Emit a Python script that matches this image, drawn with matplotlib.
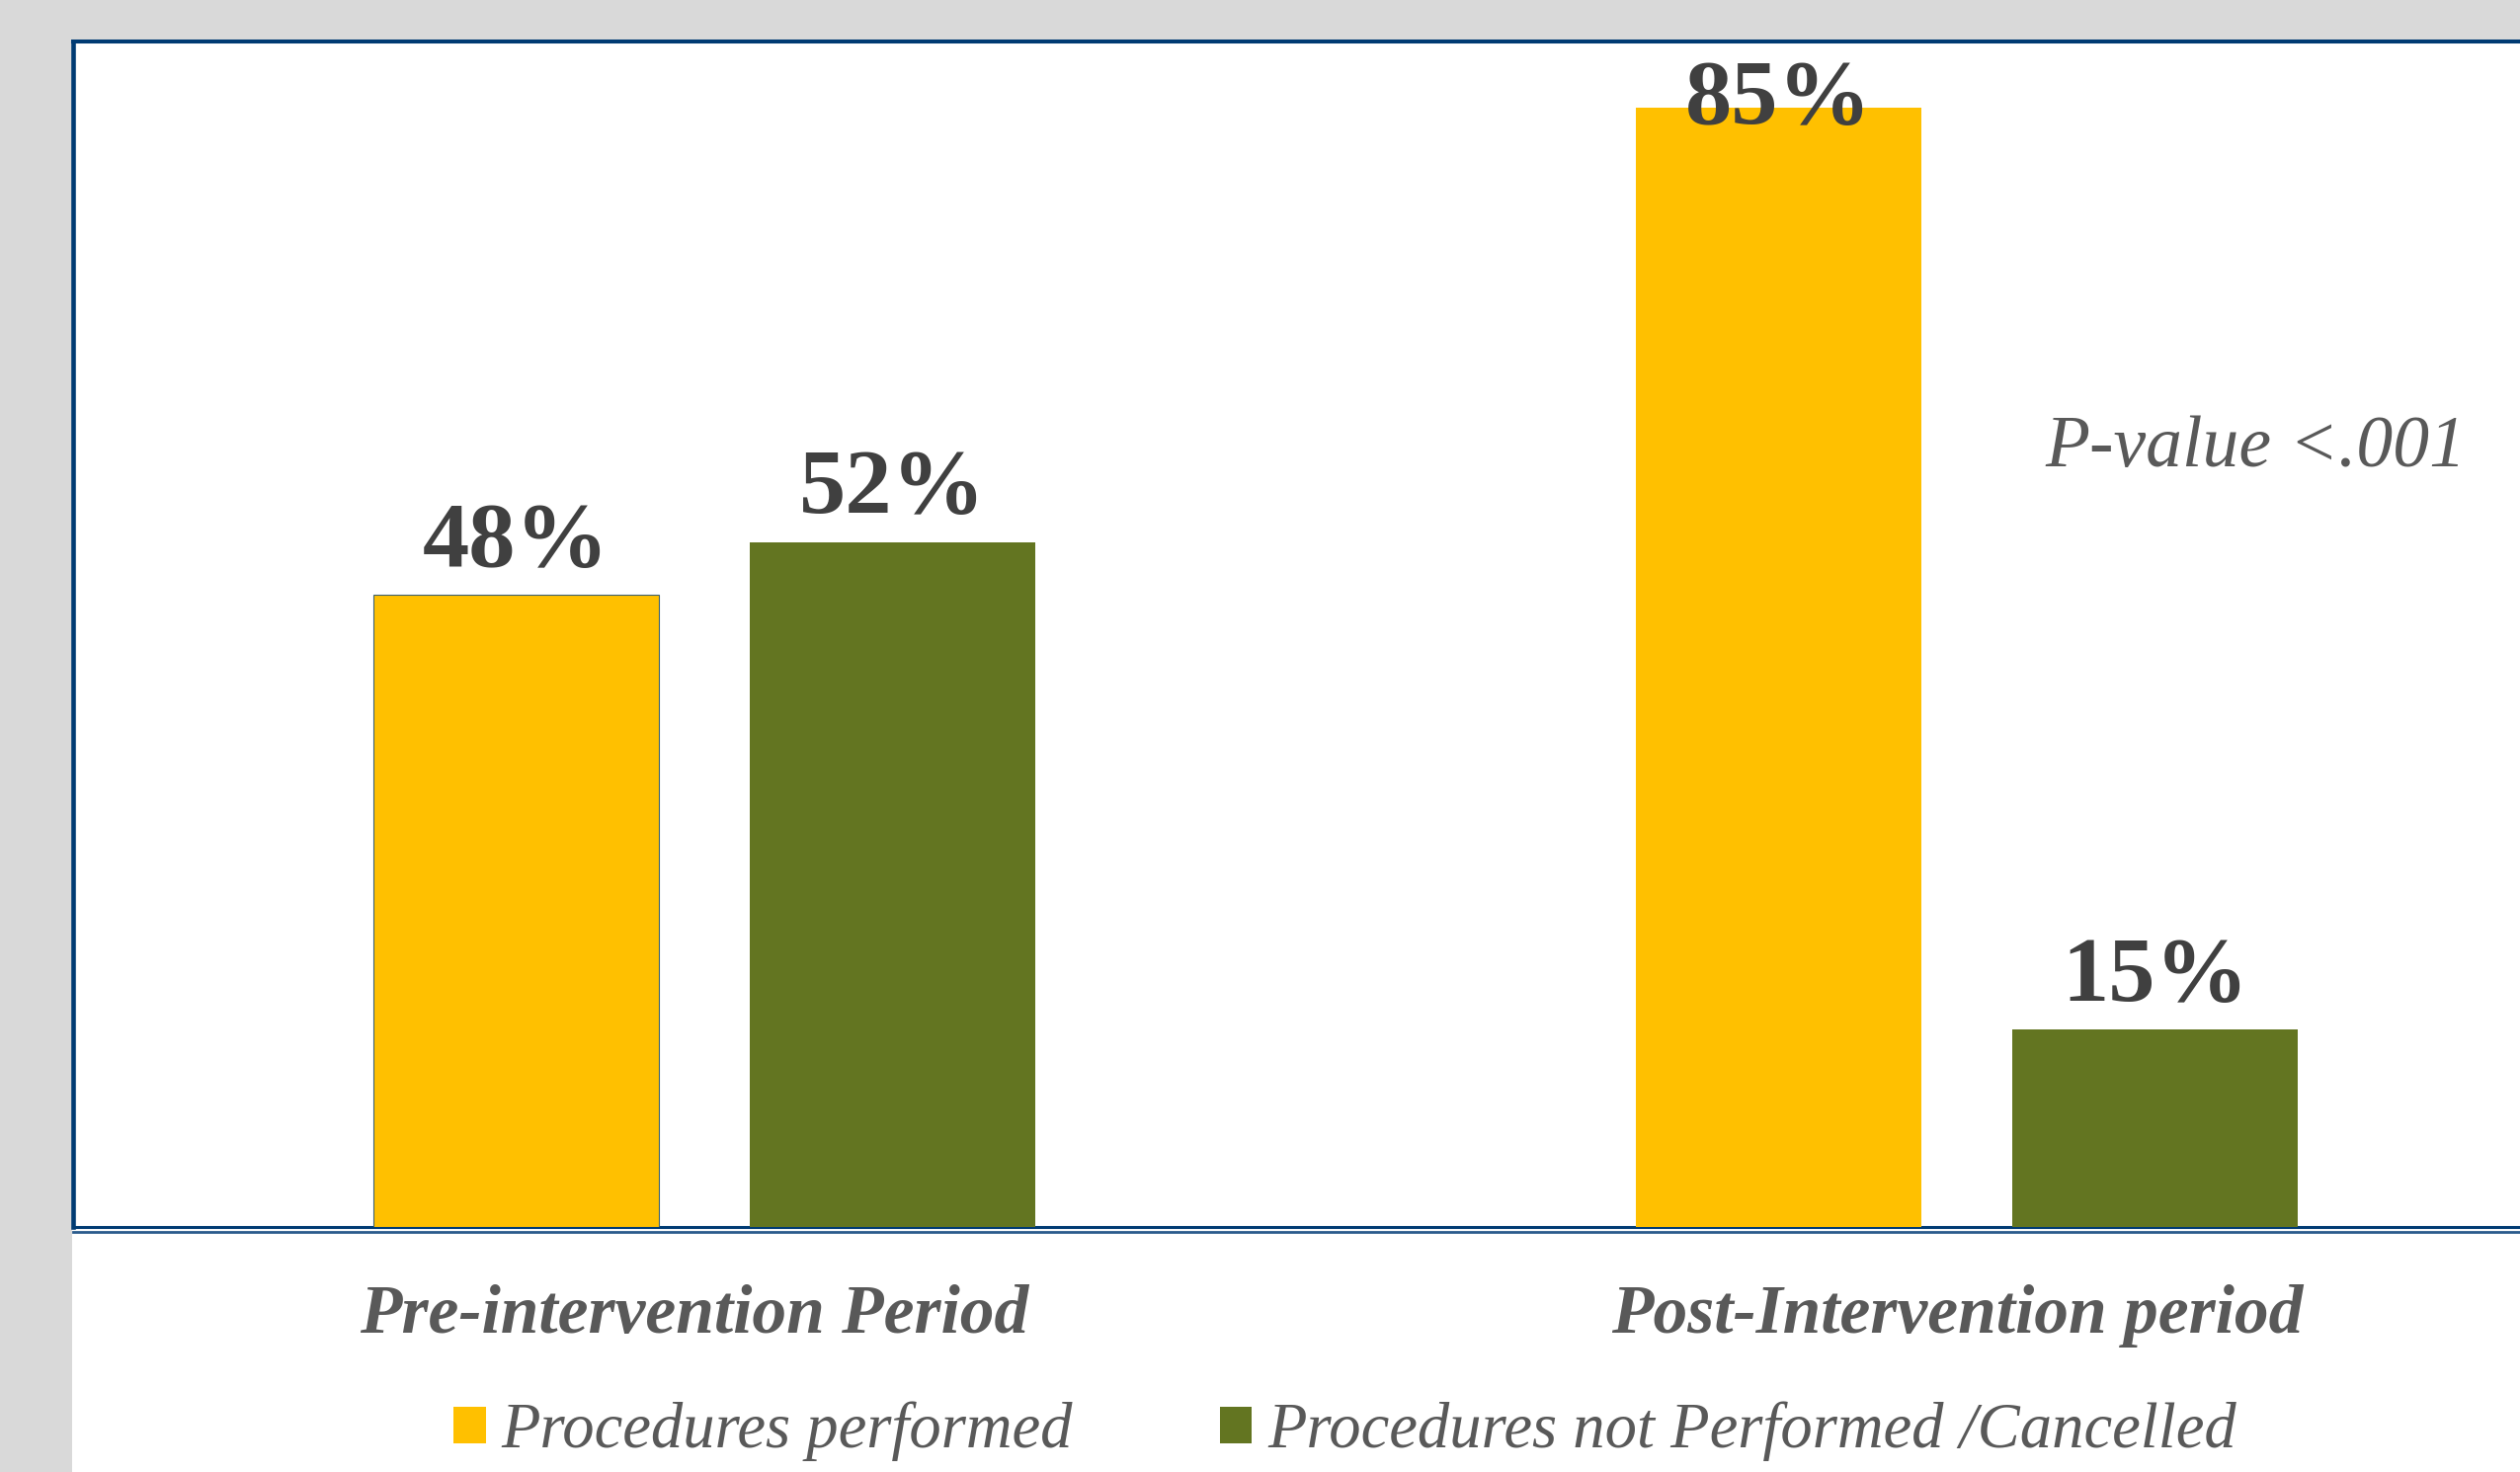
import matplotlib
matplotlib.use('Agg')
import matplotlib.pyplot as plt
from matplotlib.patches import Rectangle
import matplotlib.transforms as mtransforms
import numpy as np

# ---- data ----
categories = ['Pre-intervention Period', 'Post-Intervention period']
series_names = ['Procedures performed', 'Procedures not Performed /Cancelled']
performed = [48, 85]
not_performed = [52, 15]
p_value_text = 'P-value <.001'

plt.rcParams['font.family'] = ['Liberation Serif', 'DejaVu Serif']

W, H = 2551, 1490
DPI = 100
YELLOW = '#FFC000'
GREEN = '#637521'
BLUE = '#003b73'
DARK_TXT = '#404040'
GRAY_TXT = '#595959'

fig = plt.figure(figsize=(W / DPI, H / DPI), dpi=DPI, facecolor='#d9d9d9')
# white chart area
fig.patches.append(Rectangle((73 / W, 0), 1 - 73 / W, 1 - 42 / H,
                             transform=fig.transFigure, facecolor='white',
                             edgecolor='none', zorder=-10))

ax = fig.add_axes([74 / W, 1 - 1242 / H, 1 - 74 / W, 1200 / H])
ax.set_zorder(1)
ax.set_facecolor('white')

x = np.arange(len(categories)) + 0.5
width = 0.226
off = 0.149
b1 = ax.bar(x - off, performed, width, color=YELLOW, zorder=3)
b2 = ax.bar(x + off, not_performed, width, color=GREEN, zorder=3)

ax.set_xlim(0, (W - 74) / 1278.1)
ytop = 90
ax.set_ylim(0, ytop)

# value labels
for bars, vals in ((b1, performed), (b2, not_performed)):
    for rect, v in zip(bars, vals):
        y = min(v + 2.2, ytop - 6.2)
        ax.text(rect.get_x() + rect.get_width() / 2, y, f'{v}%',
                ha='center', va='baseline', fontsize=68, fontweight='bold',
                color=DARK_TXT, zorder=5)

# category labels
ax.set_xticks(x, categories)
ax.set_yticks([])
ax.tick_params(axis='x', length=0, pad=42)
shift = mtransforms.ScaledTranslation(-10 / DPI, 0, fig.dpi_scale_trans)
for lbl in ax.get_xticklabels():
    lbl.set_fontsize(50)
    lbl.set_fontweight('bold')
    lbl.set_fontstyle('italic')
    lbl.set_color(GRAY_TXT)
    lbl.set_transform(lbl.get_transform() + shift)

# spines
ax.spines['right'].set_visible(False)
ax.spines['left'].set_color(BLUE)
ax.spines['left'].set_linewidth(3.3)
ax.spines['top'].set_color(BLUE)
ax.spines['top'].set_linewidth(2.9)
ax.spines['bottom'].set_color(BLUE)
ax.spines['bottom'].set_linewidth(2.2)
off_tr = mtransforms.offset_copy(ax.transAxes, fig=fig, x=0, y=-4.5, units='dots')
ax.plot([0, 1], [0, 0], transform=off_tr, color='#2a5b8c', lw=2.0,
        clip_on=False, zorder=2)

# p-value
ax.text(0.8058, 0.6419, p_value_text, transform=ax.transAxes, ha='left',
        va='baseline', fontsize=53, fontstyle='italic', color=GRAY_TXT)

# legend
leg = fig.legend([b1, b2], series_names, loc='center',
                 bbox_to_anchor=(0.5338, 1 - 1449 / H), ncol=2, frameon=False,
                 prop={'family': 'Liberation Serif', 'style': 'italic', 'size': 46.5},
                 handlelength=0.5, handleheight=0.5, handletextpad=0.25,
                 columnspacing=2.3, borderpad=0, borderaxespad=0,
                 labelcolor=GRAY_TXT)
leg.set_zorder(2)

# thin outline on the first bar (as in the reference)
b1[0].set_edgecolor('#3d6270')
b1[0].set_linewidth(0.8)

fig.savefig('out.png', dpi=DPI, facecolor=fig.get_facecolor())
